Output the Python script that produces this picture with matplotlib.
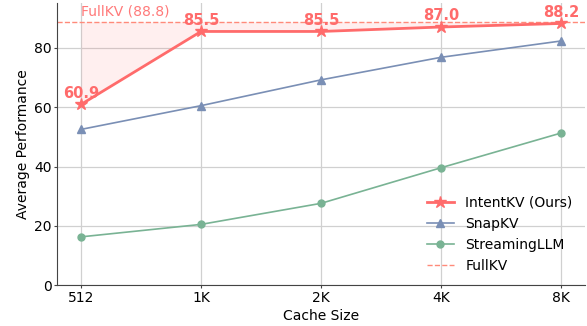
import numpy as np
import matplotlib.pyplot as plt

cache_sizes = ['512', '1K', '2K', '4K', '8K']
intentkv = [60.9, 85.5, 85.5, 87.0, 88.2]
snapkv = [52.5, 60.5, 69.2, 76.8, 82.3]
streamingllm = [16.3, 20.5, 27.6, 39.6, 51.3]
fullkv = 88.8

red = '#ff6b6b'
blue = '#7a8fb5'
green = '#79b394'

x = np.arange(len(cache_sizes))

fig, ax = plt.subplots(figsize=(5.87, 3.26), dpi=100)

ax.fill_between(x, intentkv, fullkv, color=red, alpha=0.1, linewidth=0)
ax.plot(x, intentkv, color=red, marker='*', markersize=9, linewidth=2, label='IntentKV (Ours)', zorder=5)
ax.plot(x, snapkv, color=blue, marker='^', markersize=6, linewidth=1.2, label='SnapKV', zorder=4)
ax.plot(x, streamingllm, color=green, marker='o', markersize=5, linewidth=1.2, label='StreamingLLM', zorder=4)
ax.axhline(fullkv, color='#ff8a7a', linestyle='--', linewidth=1, label='FullKV')

ax.text(0, fullkv + 1.1, f'FullKV ({fullkv})', color=red, fontsize=10, alpha=0.9, va='bottom')
for xi, v in zip(x, intentkv):
    ax.text(xi, v + 1.2, f'{v:.1f}', color=red, fontsize=10.5, fontweight='bold', ha='center', va='bottom')

ax.set_xticks(x)
ax.set_xticklabels(cache_sizes)
ax.set_xlim(-0.2, 4.2)
ax.set_ylim(0, 95)
ax.set_yticks([0, 20, 40, 60, 80])
ax.tick_params(length=2, pad=2, color='#444444')
ax.set_xlabel('Cache Size', labelpad=3)
ax.set_ylabel('Average Performance', labelpad=3)
ax.grid(True, color='#d0d0d0', linewidth=0.9)
ax.set_axisbelow(True)
ax.spines['top'].set_visible(False)
ax.spines['right'].set_visible(False)
ax.spines['left'].set_color('#444444')
ax.spines['bottom'].set_color('#444444')
ax.legend(loc='lower right', frameon=False, bbox_to_anchor=(1.0, 0.0))

fig.subplots_adjust(left=0.097, right=0.997, bottom=0.125, top=0.99)
fig.savefig('out.png', dpi=100)
